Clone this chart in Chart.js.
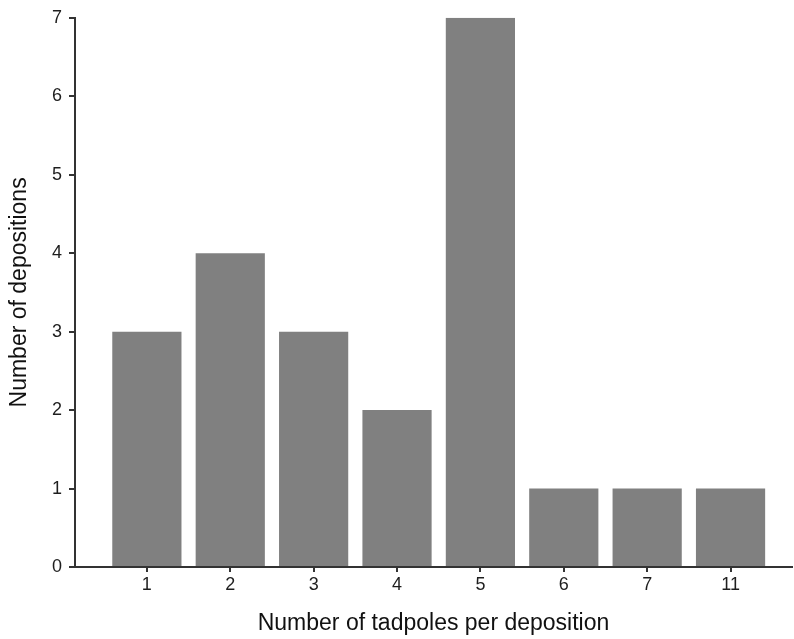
<!DOCTYPE html>
<html>
<head>
<meta charset="utf-8">
<script src="https://cdn.jsdelivr.net/npm/chart.js@4.4.1/dist/chart.umd.min.js"></script>
<style>
  html, body { margin: 0; padding: 0; background: #fff; }
  #wrap { width: 794px; height: 639px; position: relative; }
</style>
</head>
<body>
<div id="wrap"><canvas id="myChart" width="794" height="639"></canvas></div>
<script>
// categories on the x axis (tadpoles per deposition)
const tadpoleLabels = ['1', '2', '3', '4', '5', '6', '7', '11'];
// number of depositions for each category
const depositionCounts = [3, 4, 3, 2, 7, 1, 1, 1];
const yTicks = [0, 1, 2, 3, 4, 5, 6, 7];

const barData = depositionCounts.map((v, i) => ({ x: i + 1, y: v }));
const axisColor = '#333333';
const textColor = '#1e1e1e';
const fontFamily = 'Liberation Sans, Arial, Helvetica, sans-serif';

const ctx = document.getElementById('myChart').getContext('2d');
new Chart(ctx, {
    type: 'bar',
    data: {
        datasets: [{
            data: barData,
            backgroundColor: '#808080',
            borderWidth: 0,
            barPercentage: 0.83,
            categoryPercentage: 1
        }]
    },
    options: {
        responsive: false,
        animation: false,
        layout: { padding: { top: 13, right: 2, left: 0, bottom: 0 } },
        plugins: {
            legend: { display: false },
            tooltip: { enabled: false }
        },
        scales: {
            x: {
                type: 'linear',
                offset: false,
                min: 0.138,
                max: 8.737,
                afterFit: function(scale) { scale.height = 72; },
                afterBuildTicks: function(scale) {
                    scale.ticks = tadpoleLabels.map((l, i) => ({ value: i + 1 }));
                },
                ticks: {
                    callback: function(value) { return tadpoleLabels[value - 1]; },
                    color: textColor,
                    font: { family: fontFamily, size: 18 },
                    padding: 2,
                    maxRotation: 0
                },
                grid: {
                    display: true,
                    offset: false,
                    drawOnChartArea: false,
                    drawTicks: true,
                    tickLength: 5,
                    color: axisColor,
                    lineWidth: 2
                },
                border: { display: true, color: axisColor, width: 2 },
                title: {
                    display: true,
                    text: 'Number of tadpoles per deposition',
                    color: '#111111',
                    font: { family: fontFamily, size: 23 },
                    padding: { top: 4, bottom: 2 }
                }
            },
            y: {
                min: 0,
                max: 7,
                afterFit: function(scale) { scale.width = 75; },
                afterBuildTicks: function(scale) {
                    scale.ticks = yTicks.map(v => ({ value: v }));
                },
                ticks: {
                    color: textColor,
                    font: { family: fontFamily, size: 18 },
                    padding: 7
                },
                grid: {
                    display: true,
                    drawOnChartArea: false,
                    drawTicks: true,
                    tickLength: 6,
                    color: axisColor,
                    lineWidth: 2
                },
                border: { display: true, color: axisColor, width: 2 },
                title: {
                    display: true,
                    text: 'Number of depositions',
                    color: '#111111',
                    font: { family: fontFamily, size: 23 },
                    padding: { top: 6, bottom: 0 }
                }
            }
        }
    }
});
</script>
</body>
</html>
